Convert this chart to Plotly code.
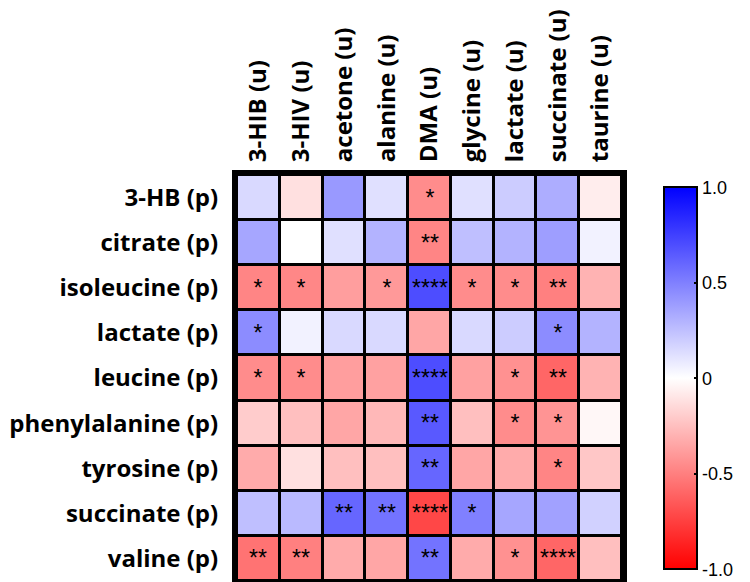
import plotly.graph_objects as go

urine = ["3-HIB (u)", "3-HIV (u)", "acetone (u)", "alanine (u)", "DMA (u)",
         "glycine (u)", "lactate (u)", "succinate (u)", "taurine (u)"]
plasma = ["3-HB (p)", "citrate (p)", "isoleucine (p)", "lactate (p)", "leucine (p)",
          "phenylalanine (p)", "tyrosine (p)", "succinate (p)", "valine (p)"]

# correlation coefficients, rows = plasma, columns = urine
r_3hb = [0.15, -0.12, 0.40, 0.12, -0.45, 0.12, 0.20, 0.32, -0.07]
r_citrate = [0.35, 0.00, 0.12, 0.30, -0.48, 0.25, 0.30, 0.38, 0.05]
r_isoleucine = [-0.48, -0.47, -0.38, -0.40, 0.70, -0.45, -0.45, -0.50, -0.30]
r_lactate = [0.45, 0.05, 0.15, 0.15, -0.35, 0.15, 0.20, 0.45, 0.30]
r_leucine = [-0.45, -0.45, -0.38, -0.37, 0.70, -0.37, -0.43, -0.60, -0.30]
r_phenylalanine = [-0.20, -0.25, -0.35, -0.28, 0.65, -0.25, -0.45, -0.42, -0.03]
r_tyrosine = [-0.33, -0.12, -0.25, -0.25, 0.60, -0.35, -0.33, -0.48, -0.22]
r_succinate = [0.25, 0.27, 0.60, 0.55, -0.72, 0.50, 0.35, 0.37, 0.18]
r_valine = [-0.55, -0.50, -0.33, -0.35, 0.55, -0.33, -0.43, -0.60, -0.25]

# significance stars
s_3hb = ["", "", "", "", "*", "", "", "", ""]
s_citrate = ["", "", "", "", "**", "", "", "", ""]
s_isoleucine = ["*", "*", "", "*", "****", "*", "*", "**", ""]
s_lactate = ["*", "", "", "", "", "", "", "*", ""]
s_leucine = ["*", "*", "", "", "****", "", "*", "**", ""]
s_phenylalanine = ["", "", "", "", "**", "", "*", "*", ""]
s_tyrosine = ["", "", "", "", "**", "", "", "*", ""]
s_succinate = ["", "", "**", "**", "****", "*", "", "", ""]
s_valine = ["**", "**", "", "", "**", "", "*", "****", ""]

z = [r_3hb, r_citrate, r_isoleucine, r_lactate, r_leucine,
     r_phenylalanine, r_tyrosine, r_succinate, r_valine]
stars = [s_3hb, s_citrate, s_isoleucine, s_lactate, s_leucine,
         s_phenylalanine, s_tyrosine, s_succinate, s_valine]

cbar_vals = [1.0, 0.5, 0, -0.5, -1.0]
cbar_text = ["1.0", "0.5", "0", "-0.5", "-1.0"]

fig = go.Figure(go.Heatmap(
    z=z, x=urine, y=plasma, text=stars, texttemplate="%{text}",
    textfont=dict(family="Liberation Sans", size=23, color="black"),
    zmin=-1, zmax=1, xgap=3, ygap=3,
    colorscale=[[0, "rgb(255,0,0)"], [0.5, "rgb(255,255,255)"], [1, "rgb(0,0,255)"]],
    colorbar=dict(
        x=1.084, xanchor="left", y=0.499, yanchor="middle",
        thickness=33, lenmode="pixels", len=382, ypad=0,
        outlinewidth=2, outlinecolor="black",
        tickvals=cbar_vals, ticktext=cbar_text, ticks="inside", ticklen=4,
        tickcolor="black", tickwidth=2,
        tickfont=dict(family="Liberation Sans", size=18, color="black"),
    ),
))

fig.update_layout(
    width=750, height=582,
    margin=dict(l=229, r=116, t=167, b=9),
    paper_bgcolor="white", plot_bgcolor="black",
    font=dict(family="Open Sans", color="black"),
    xaxis=dict(side="top", tickangle=-90, showgrid=False, zeroline=False, automargin=False,
               tickfont=dict(size=24, weight="bold"), ticks="", ticklabelstandoff=3,
               showline=True, linewidth=5, linecolor="black", mirror=True),
    yaxis=dict(autorange="reversed", showgrid=False, zeroline=False, automargin=False,
               tickfont=dict(size=24, weight="bold"), ticks="", ticklabelstandoff=9,
               showline=True, linewidth=5, linecolor="black", mirror=True),
)

fig.write_html("out.html")
